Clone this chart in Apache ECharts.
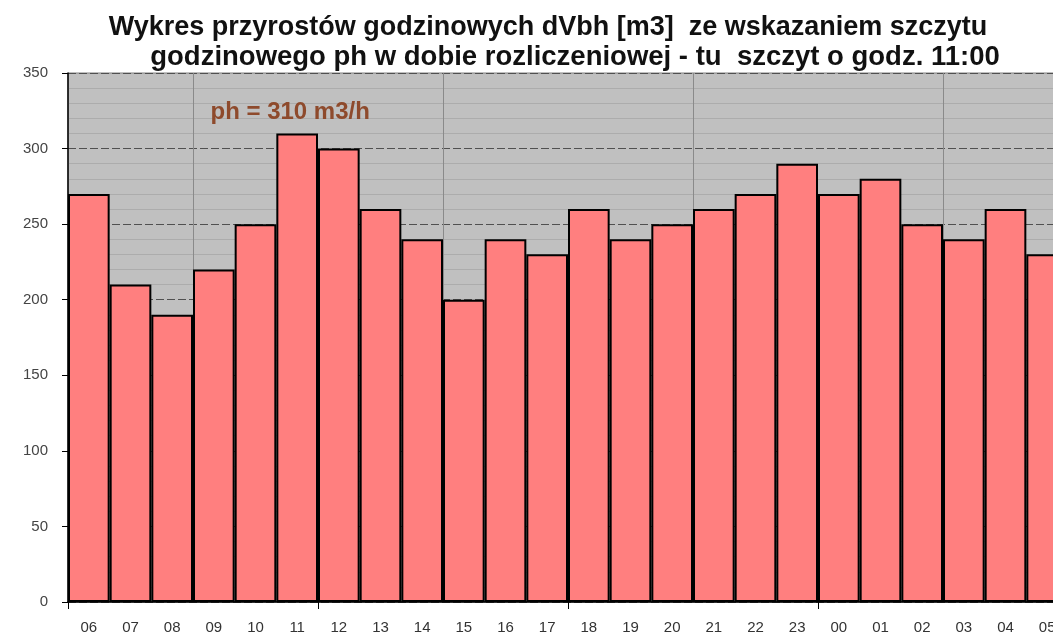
<!DOCTYPE html>
<html><head><meta charset="utf-8">
<script src="https://cdn.jsdelivr.net/npm/echarts@6/dist/echarts.min.js"></script>
<style>html,body{margin:0;padding:0;background:#fff;overflow:hidden}#c{width:1053px;height:635px}</style>
</head><body><div id="c"></div>
<script>
var hours = ['06','07','08','09','10','11','12','13','14','15','16','17','18','19','20','21','22','23','00','01','02','03','04','05'];
var dVbh = [270,210,190,220,250,310,300,260,240,200,240,230,260,240,250,260,270,290,270,280,250,240,260,230];
var yTicks = [0,50,100,150,200,250,300,350];
var peakHour = '11';
var peakLabel = 'ph = 310 m3/h';
var titleLine1 = 'Wykres przyrostów godzinowych dVbh [m3]  ze wskazaniem szczytu';
var titleLine2 = 'godzinowego ph w dobie rozliczeniowej - tu  szczyt o godz. 11:00';

var chart = echarts.init(document.getElementById('c'), null, {renderer:'canvas'});
chart.setOption({
  animation:false,
  backgroundColor:'#ffffff',
  title:[
    {text:titleLine1, left:543, top:9, textAlign:'center',
     textStyle:{fontFamily:'Liberation Sans, Arial', fontWeight:'bold', fontSize:27, color:'#111'}},
    {text:titleLine2, left:570, top:38, textAlign:'center',
     textStyle:{fontFamily:'Liberation Sans, Arial', fontWeight:'bold', fontSize:27.5, color:'#111'}}
  ],
  grid:{left:68, width:1000, top:73, height:529, outerBoundsMode:'none', containLabel:false,
        show:true, backgroundColor:'#c0c0c0', borderWidth:1, borderColor:'#808080'},
  xAxis:{
    type:'category', data:hours, boundaryGap:true,
    axisLine:{lineStyle:{color:'#000', width:1.5}},
    axisTick:{show:true, length:7, interval:function(i){return i%6===0;}, lineStyle:{color:'#000'}},
    axisLabel:{color:'#333', fontSize:15, fontFamily:'Liberation Sans, Arial', margin:18, interval:0},
    splitLine:{show:true, interval:function(i){return i%6===3;}, lineStyle:{color:'#8a8a8a', width:1}}
  },
  yAxis:{
    type:'value', min:yTicks[0], max:yTicks[yTicks.length-1], interval:50,
    axisLine:{show:true, lineStyle:{color:'#000', width:1.5}},
    axisTick:{show:true, length:6, lineStyle:{color:'#000'}},
    axisLabel:{color:'#444', fontSize:15, fontFamily:'Liberation Sans, Arial', margin:20},
    splitLine:{show:true, lineStyle:{color:'#505050', width:1, type:[8,3]}},
    minorSplitLine:{show:true, lineStyle:{color:'#acacac', width:1}},
    minorTick:{show:false, splitNumber:5}
  },
  series:[{
    type:'bar', data:dVbh, barCategoryGap:'0%', barGap:'0%',
    itemStyle:{color:'#ff7f7f', borderColor:'#000', borderWidth:2},
    markPoint:{
      symbol:'circle', symbolSize:0,
      data:[{coord:[peakHour, 324], value:peakLabel}],
      label:{show:true, formatter:peakLabel, offset:[-7,0], color:'#8e4a2c', fontWeight:'bold', fontSize:24, fontFamily:'Liberation Sans, Arial'}
    }
  }]
});
</script></body></html>
